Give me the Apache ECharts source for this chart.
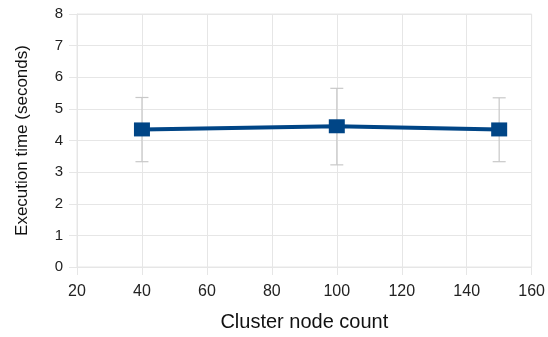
<!DOCTYPE html>
<html>
<head>
<meta charset="utf-8">
<script src="https://cdn.jsdelivr.net/npm/echarts@6/dist/echarts.min.js"></script>
<style>html,body{margin:0;padding:0;background:#fff;}#c{width:548px;height:337px;}</style>
</head>
<body>
<div id="c"></div>
<script>
const nodes = [40, 100, 150];
const times = [4.35, 4.45, 4.35];
const errLow = [3.33, 3.23, 3.33];
const errHigh = [5.36, 5.65, 5.35];
const xTicks = [20, 40, 60, 80, 100, 120, 140, 160];
const yTicks = [0, 1, 2, 3, 4, 5, 6, 7, 8];

const chart = echarts.init(document.getElementById('c'));
const font = 'Liberation Sans, Arial, sans-serif';
const gridColor = '#e6e6e6';
chart.setOption({
  animation: false,
  grid: { left: 77, right: 16, top: 14, bottom: 67, show: true, borderColor: gridColor, borderWidth: 1 },
  xAxis: {
    type: 'value', min: xTicks[0], max: xTicks[xTicks.length - 1], interval: 20,
    name: 'Cluster node count', nameLocation: 'middle', nameGap: 45,
    nameTextStyle: { fontFamily: font, fontSize: 20, color: '#111' },
    axisLine: { show: true, lineStyle: { color: gridColor } },
    axisTick: { show: true, length: 8, lineStyle: { color: gridColor } },
    axisLabel: { fontFamily: font, fontSize: 16, color: '#222', margin: 17 },
    splitLine: { show: true, lineStyle: { color: gridColor } }
  },
  yAxis: {
    type: 'value', min: yTicks[0], max: yTicks[yTicks.length - 1], interval: 1,
    name: 'Execution time (seconds)', nameLocation: 'middle', nameGap: 46,
    nameTextStyle: { fontFamily: font, fontSize: 17, color: '#111' },
    axisLine: { show: true, lineStyle: { color: gridColor } },
    axisTick: { show: true, length: 8, lineStyle: { color: gridColor } },
    axisLabel: { fontFamily: font, fontSize: 15, color: '#222', margin: 14 },
    splitLine: { show: true, lineStyle: { color: gridColor } }
  },
  series: [
    {
      type: 'custom', z: 1,
      data: nodes.map((n, i) => [n, errLow[i], errHigh[i]]),
      renderItem: function (params, api) {
        const lo = api.coord([api.value(0), api.value(1)]);
        const hi = api.coord([api.value(0), api.value(2)]);
        const w = 6.5;
        const style = { stroke: '#c8c8c8', lineWidth: 1.2 };
        return {
          type: 'group',
          children: [
            { type: 'line', shape: { x1: lo[0], y1: lo[1], x2: hi[0], y2: hi[1] }, style },
            { type: 'line', shape: { x1: lo[0] - w, y1: lo[1], x2: lo[0] + w, y2: lo[1] }, style },
            { type: 'line', shape: { x1: hi[0] - w, y1: hi[1], x2: hi[0] + w, y2: hi[1] }, style }
          ]
        };
      }
    },
    {
      type: 'line', z: 3,
      data: nodes.map((n, i) => [n, times[i]]),
      symbol: 'rect', symbolSize: [16, 14],
      lineStyle: { color: '#004586', width: 4 },
      itemStyle: { color: '#004586' }
    }
  ]
});
</script>
</body>
</html>
